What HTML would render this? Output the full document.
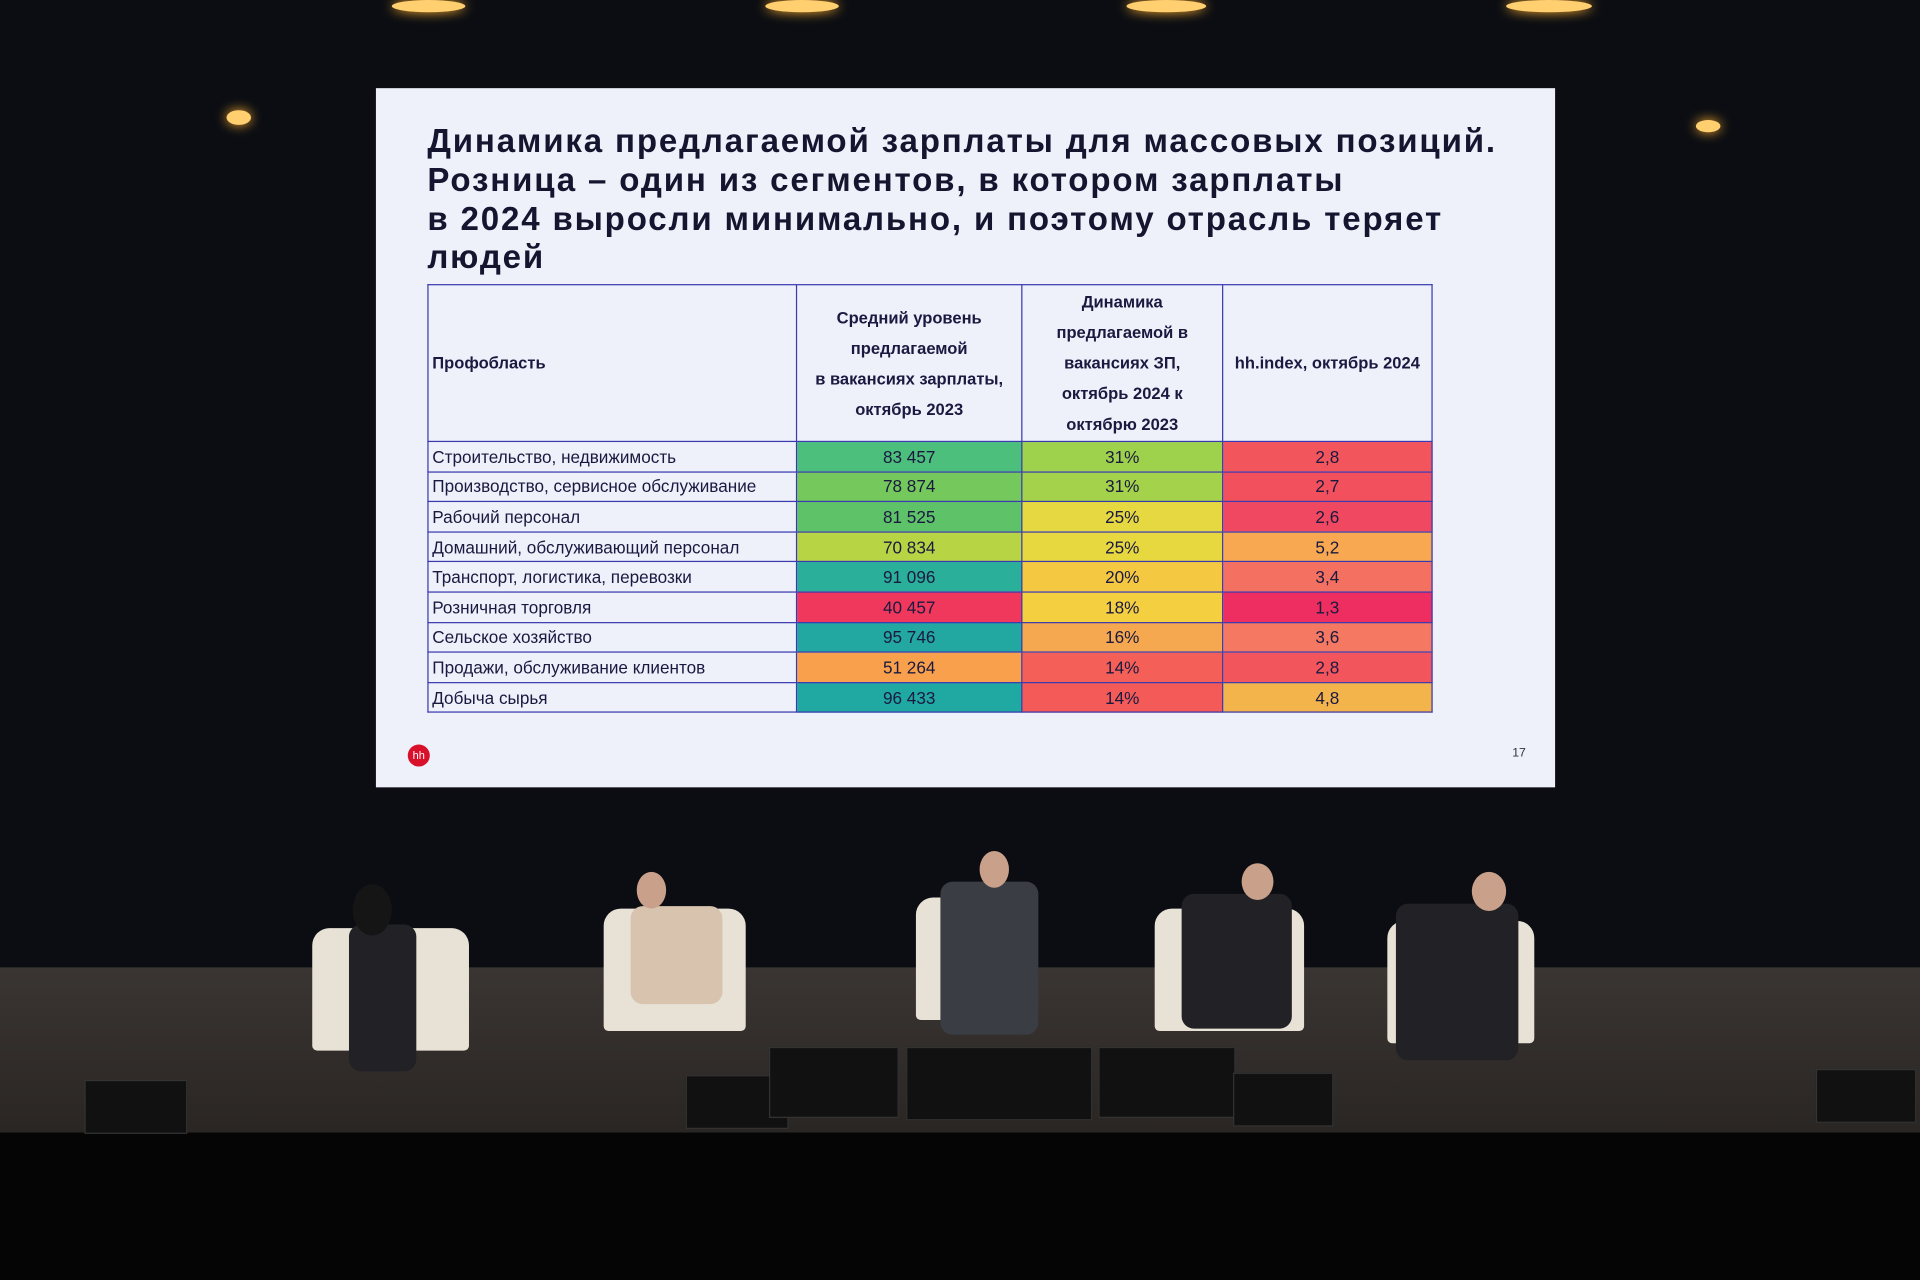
<!DOCTYPE html>
<html><head><meta charset="utf-8"><style>
body{margin:0;width:1920px;height:1280px;overflow:hidden;background:#07080c;}
#w{position:absolute;left:0;top:0;width:1568px;height:1045px;transform:scale(1.22449);transform-origin:0 0;font-family:"Liberation Sans","DejaVu Sans",sans-serif;}
.abs{position:absolute}
#screen{left:307px;top:72px;width:963px;height:571px;background:#eef0fa;}
.t{left:42px;font-weight:bold;font-size:27px;letter-spacing:1.5px;color:#151530;line-height:31px;white-space:nowrap}
table{position:absolute;left:42px;top:160px;border-collapse:collapse;font-size:14px;color:#1a1a40;}
td{border:1px solid #3a3ab0;height:23.6px;padding:0 3px;white-space:nowrap}
th{border:1px solid #3a3ab0;font-size:13.5px;line-height:25px;font-weight:bold;height:120px;vertical-align:middle}
td.c{text-align:center}
.stage{left:0;top:790px;width:1568px;height:135px;background:linear-gradient(#3a3532,#2a2624);}
.chair{background:#e8e2d6;border-radius:14px 14px 4px 4px}
.person{background:#222226;border-radius:10px}
.head{background:#c9a08a;border-radius:50%}
.spk{background:#111;border:1px solid #333}
.light{background:#ffcf70;border-radius:50%;box-shadow:0 0 10px #ffb030}
</style></head><body><div id="w">
<div class="abs" style="left:0;top:0;width:1568px;height:790px;background:#0b0d13"></div>
<div class="abs light" style="left:185px;top:90px;width:20px;height:12px"></div>
<div class="abs light" style="left:484px;top:92px;width:24px;height:12px"></div>
<div class="abs light" style="left:790px;top:94px;width:24px;height:12px"></div>
<div class="abs light" style="left:1090px;top:96px;width:24px;height:12px"></div>
<div class="abs light" style="left:1385px;top:98px;width:20px;height:10px"></div>
<div class="abs light" style="left:320px;top:0;width:60px;height:10px"></div>
<div class="abs light" style="left:625px;top:0;width:60px;height:10px"></div>
<div class="abs light" style="left:920px;top:0;width:65px;height:10px"></div>
<div class="abs light" style="left:1230px;top:0;width:70px;height:10px"></div>
<div id="screen" class="abs">
<div class="abs t" style="top:28px">Динамика предлагаемой зарплаты для массовых позиций.</div>
<div class="abs t" style="top:60px">Розница – один из сегментов, в котором зарплаты</div>
<div class="abs t" style="top:92px">в 2024 выросли минимально, и поэтому отрасль теряет</div>
<div class="abs t" style="top:123px">людей</div>
<table>
<tr><th style="width:296px;text-align:left;padding-left:3px">Профобласть</th><th style="width:181px">Средний уровень<br>предлагаемой<br>в вакансиях зарплаты,<br>октябрь 2023</th><th style="width:161px">Динамика<br>предлагаемой в<br>вакансиях ЗП,<br>октябрь 2024 к<br>октябрю 2023</th><th style="width:168px">hh.index, октябрь 2024</th></tr>
<tr><td>Строительство, недвижимость</td><td class="c" style="background:#4cbf7c">83 457</td><td class="c" style="background:#9fd24c">31%</td><td class="c" style="background:#f2555c">2,8</td></tr>
<tr><td>Производство, сервисное обслуживание</td><td class="c" style="background:#74c85c">78 874</td><td class="c" style="background:#a4d24a">31%</td><td class="c" style="background:#f2505c">2,7</td></tr>
<tr><td>Рабочий персонал</td><td class="c" style="background:#5ec268">81 525</td><td class="c" style="background:#e6d840">25%</td><td class="c" style="background:#f04860">2,6</td></tr>
<tr><td>Домашний, обслуживающий персонал</td><td class="c" style="background:#b6d444">70 834</td><td class="c" style="background:#e8d840">25%</td><td class="c" style="background:#f7a850">5,2</td></tr>
<tr><td>Транспорт, логистика, перевозки</td><td class="c" style="background:#2aaf9a">91 096</td><td class="c" style="background:#f4c840">20%</td><td class="c" style="background:#f47060">3,4</td></tr>
<tr><td>Розничная торговля</td><td class="c" style="background:#f0385c">40 457</td><td class="c" style="background:#f4d040">18%</td><td class="c" style="background:#ee2e60">1,3</td></tr>
<tr><td>Сельское хозяйство</td><td class="c" style="background:#22a8a0">95 746</td><td class="c" style="background:#f6a850">16%</td><td class="c" style="background:#f47862">3,6</td></tr>
<tr><td>Продажи, обслуживание клиентов</td><td class="c" style="background:#f8a04c">51 264</td><td class="c" style="background:#f46058">14%</td><td class="c" style="background:#f2555c">2,8</td></tr>
<tr><td>Добыча сырья</td><td class="c" style="background:#20a8a2">96 433</td><td class="c" style="background:#f45a58">14%</td><td class="c" style="background:#f4b44c">4,8</td></tr>
</table>
<div class="abs" style="left:26px;top:536px;width:18px;height:18px;border-radius:50%;background:#d8102a;color:#fff;font-size:9px;text-align:center;line-height:18px">hh</div>
<div class="abs" style="left:928px;top:538px;font-size:10px;color:#333">17</div>
</div>
<div class="abs stage"></div>
<div class="abs" style="left:0;top:925px;width:1568px;height:120px;background:#050505"></div>
<div class="abs chair" style="left:255px;top:758px;width:128px;height:100px"></div>
<div class="abs person" style="left:285px;top:755px;width:55px;height:120px"></div>
<div class="abs" style="left:288px;top:722px;width:32px;height:42px;background:#151515;border-radius:50%"></div>
<div class="abs chair" style="left:493px;top:742px;width:116px;height:100px"></div>
<div class="abs" style="left:515px;top:740px;width:75px;height:80px;background:#d8c4ae;border-radius:10px"></div>
<div class="abs head" style="left:520px;top:712px;width:24px;height:30px"></div>
<div class="abs chair" style="left:748px;top:733px;width:96px;height:100px"></div>
<div class="abs person" style="left:768px;top:720px;width:80px;height:125px;background:#3a3d44"></div>
<div class="abs head" style="left:800px;top:695px;width:24px;height:30px"></div>
<div class="abs chair" style="left:943px;top:742px;width:122px;height:100px"></div>
<div class="abs person" style="left:965px;top:730px;width:90px;height:110px"></div>
<div class="abs head" style="left:1014px;top:705px;width:26px;height:30px"></div>
<div class="abs chair" style="left:1133px;top:752px;width:120px;height:100px"></div>
<div class="abs person" style="left:1140px;top:738px;width:100px;height:128px"></div>
<div class="abs head" style="left:1202px;top:712px;width:28px;height:32px"></div>
<div class="abs spk" style="left:69px;top:882px;width:82px;height:42px"></div>
<div class="abs spk" style="left:560px;top:878px;width:82px;height:42px"></div>
<div class="abs spk" style="left:628px;top:855px;width:104px;height:56px"></div>
<div class="abs spk" style="left:740px;top:855px;width:150px;height:58px"></div>
<div class="abs spk" style="left:897px;top:855px;width:110px;height:56px"></div>
<div class="abs spk" style="left:1007px;top:876px;width:80px;height:42px"></div>
<div class="abs spk" style="left:1483px;top:873px;width:80px;height:42px"></div>
</div></body></html>
